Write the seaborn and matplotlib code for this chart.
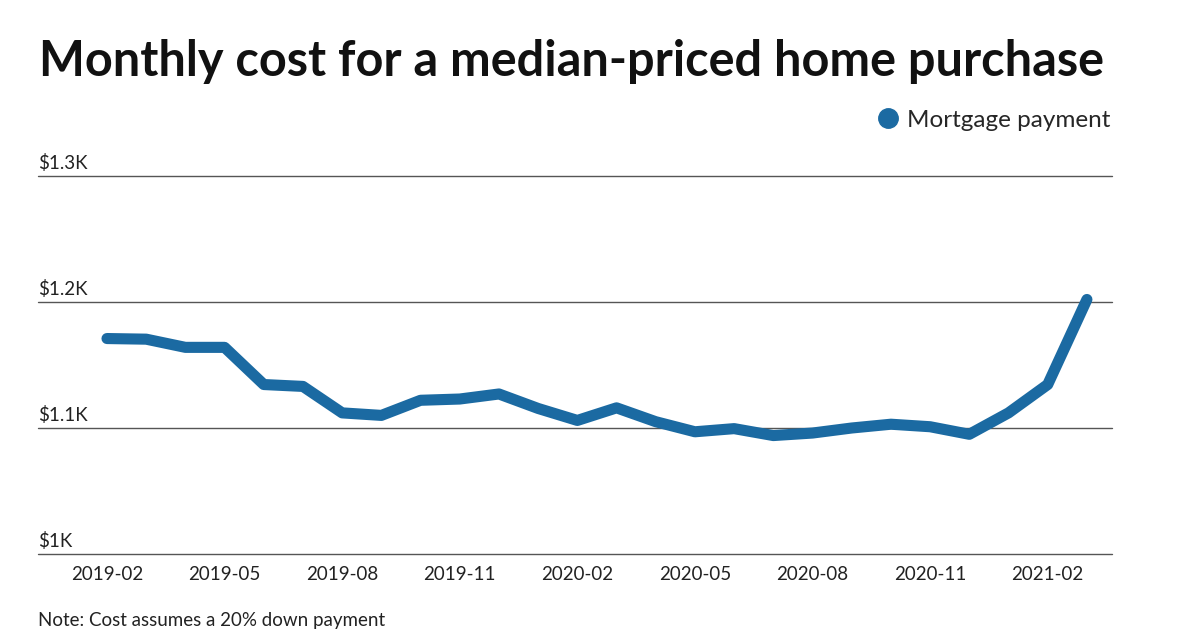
import matplotlib
matplotlib.use("Agg")
import matplotlib.pyplot as plt
import seaborn as sns
import pandas as pd
from matplotlib.lines import Line2D

months = ["2019-02", "2019-03", "2019-04", "2019-05", "2019-06", "2019-07",
          "2019-08", "2019-09", "2019-10", "2019-11", "2019-12", "2020-01",
          "2020-02", "2020-03", "2020-04", "2020-05", "2020-06", "2020-07",
          "2020-08", "2020-09", "2020-10", "2020-11", "2020-12", "2021-01",
          "2021-02", "2021-03"]
payment = [1171, 1170.5, 1164, 1164, 1134.5, 1133, 1112, 1110, 1122, 1123,
           1127, 1115.5, 1106, 1116, 1105, 1097, 1099.5, 1094, 1096, 1100,
           1103, 1101, 1095, 1112, 1134.5, 1202]
ytick_vals = [1000, 1100, 1200, 1300]
ytick_labels = ["$1K", "$1.1K", "$1.2K", "$1.3K"]
xtick_labels = ["2019-02", "2019-05", "2019-08", "2019-11", "2020-02",
                "2020-05", "2020-08", "2020-11", "2021-02"]

COLOR = "#1b6aa2"

sns.set_theme(style="white")
plt.rcParams["font.family"] = ["Lato", "DejaVu Sans"]

df = pd.DataFrame({"idx": range(len(months)), "month": months, "payment": payment})

fig = plt.figure(figsize=(12, 6.3), dpi=100)
ax = fig.add_axes([38 / 1200, 1 - 554 / 630, (1112 - 38) / 1200, (554 - 176) / 630])

sns.lineplot(data=df, x="idx", y="payment", ax=ax, color=COLOR, linewidth=8,
             solid_capstyle="round", solid_joinstyle="round", zorder=3)

ax.set_ylim(1000, 1300)
ax.set_xlim(-1.76, 25.64)
ax.set_yticks(ytick_vals)
ax.set_yticklabels([])
for v in ytick_vals:
    ax.axhline(v, color="#555555", linewidth=1, zorder=1, clip_on=False)
for v, lab in zip(ytick_vals, ytick_labels):
    ax.annotate(lab, xy=(0, v), xycoords=("axes fraction", "data"),
                xytext=(0, 3), textcoords="offset points",
                ha="left", va="bottom", fontsize=13.5, color="#222222")

xpos = [months.index(m) for m in xtick_labels]
ax.set_xticks(xpos)
ax.set_xticklabels(xtick_labels, fontsize=13.5, color="#222222")
ax.tick_params(axis="x", length=0, pad=9)
ax.tick_params(axis="y", length=0)
ax.set_xlabel("")
ax.set_ylabel("")
for s in ax.spines.values():
    s.set_visible(False)

fig.text(39 / 1200, 1 - 62 / 630, "Monthly cost for a median-priced home purchase",
         fontsize=35, fontweight="bold", ha="left", va="center", color="#111111")

handle = Line2D([], [], marker="o", linestyle="none", markersize=14,
                markerfacecolor=COLOR, markeredgecolor=COLOR)
fig.legend([handle], ["Mortgage payment"], loc="center right",
           bbox_to_anchor=(1110 / 1200, 1 - 120 / 630), frameon=False,
           fontsize=17.5, handletextpad=0.25, borderaxespad=0, borderpad=0,
           handlelength=1.0)

fig.text(38 / 1200, 1 - 629 / 630, "Note: Cost assumes a 20% down payment",
         fontsize=13.5, ha="left", va="bottom", color="#222222")

fig.savefig("out.png", dpi=100)
